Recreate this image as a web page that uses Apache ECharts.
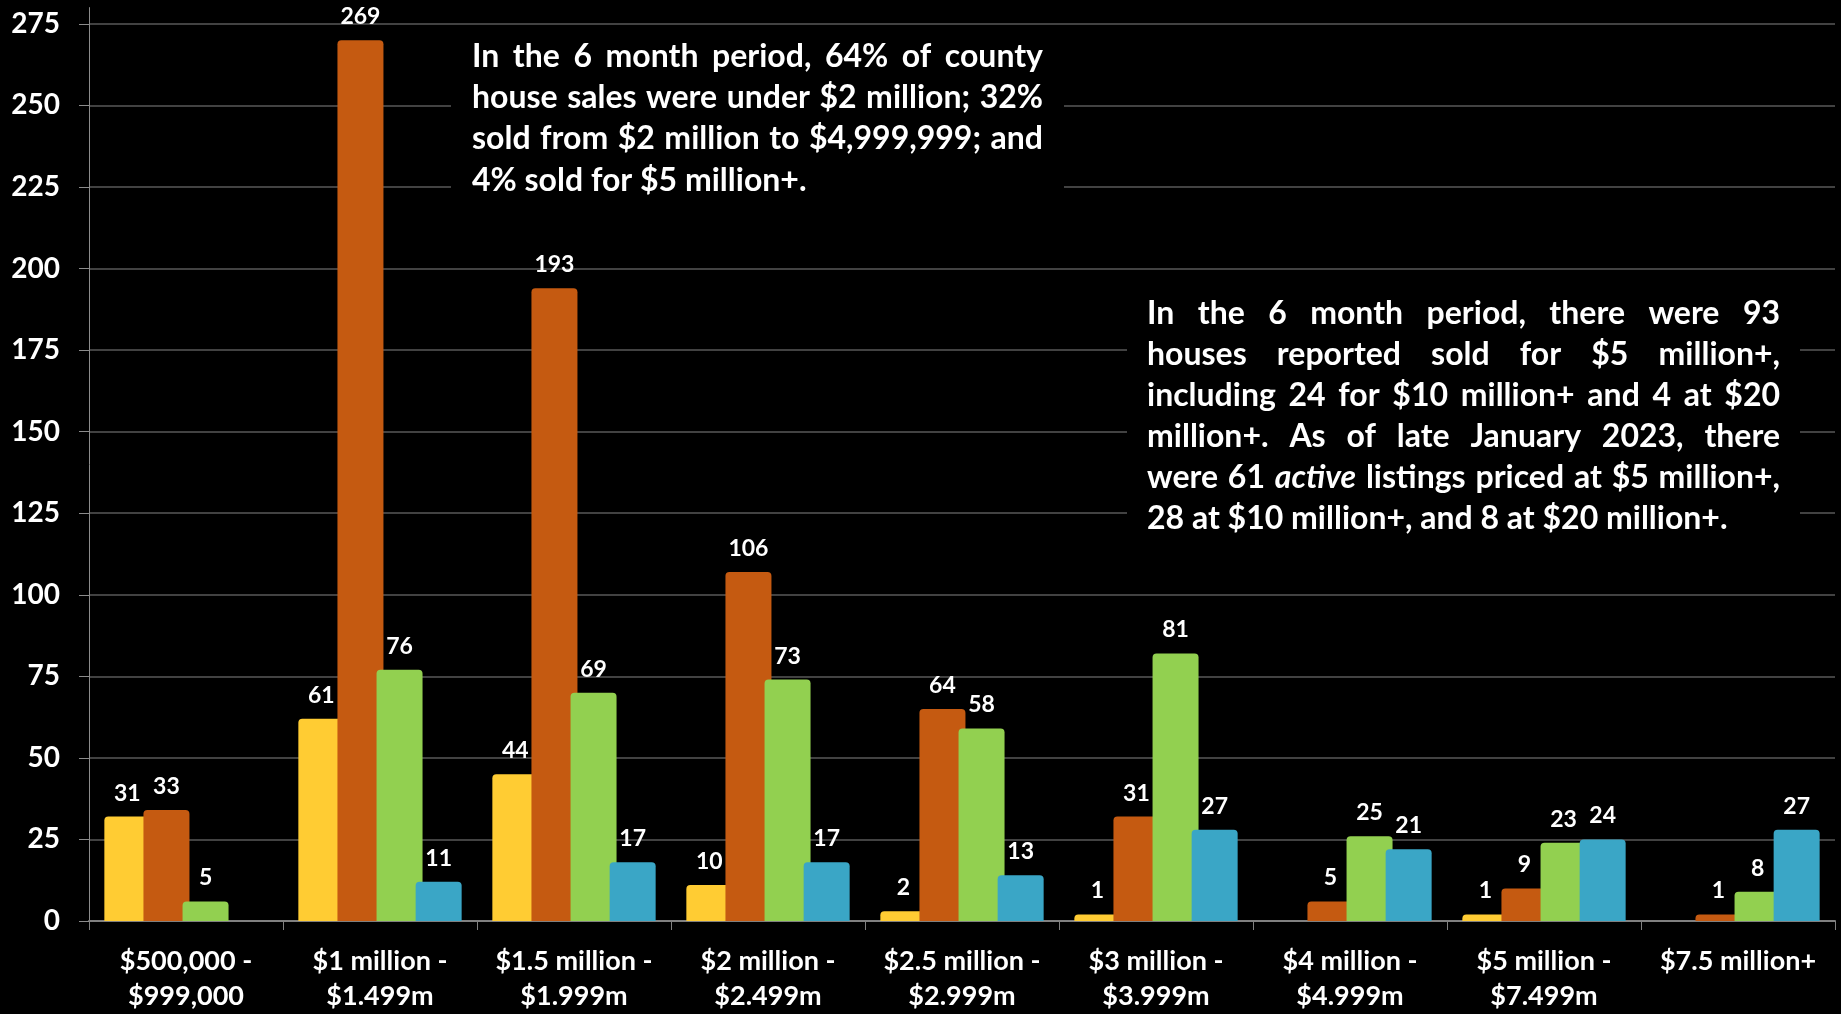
<!DOCTYPE html>
<html>
<head>
<meta charset="utf-8">
<script src="https://cdn.jsdelivr.net/npm/echarts@6/dist/echarts.min.js"></script>
<style>
  html, body { margin: 0; padding: 0; background: #000; }
  #chart { width: 1841px; height: 1014px; }
</style>
</head>
<body>
<div id="chart"></div>
<script>
// ---- data ----
const categories = [
  '$500,000 -\n$999,000',
  '$1 million -\n$1.499m',
  '$1.5 million -\n$1.999m',
  '$2 million -\n$2.499m',
  '$2.5 million -\n$2.999m',
  '$3 million -\n$3.999m',
  '$4 million -\n$4.999m',
  '$5 million -\n$7.499m',
  '$7.5 million+'
];
// printed labels
const yellowCounts = [31, 61, 44, 10, 2, 1, null, 1, null];
const orangeCounts = [33, 269, 193, 106, 64, 31, 5, 9, 1];
const greenCounts  = [5, 76, 69, 73, 58, 81, 25, 23, 8];
const blueCounts   = [null, 11, 17, 17, 13, 27, 21, 24, 27];
// bar heights as drawn in the picture
const yellowHeights = [32, 62, 45, 11, 3, 2, null, 2, null];
const orangeHeights = [34, 270, 194, 107, 65, 32, 6, 10, 2];
const greenHeights  = [6, 77, 70, 74, 59, 82, 26, 24, 9];
const blueHeights   = [null, 12, 18, 18, 14, 28, 22, 25, 28];
const yTicks = [0, 25, 50, 75, 100, 125, 150, 175, 200, 225, 250, 275];

const note1 = [
  'In the 6 month period, 64% of county',
  'house sales were under $2 million; 32%',
  'sold from $2 million to $4,999,999; and',
  '4% sold for $5 million+.'
];
const note2 = [
  'In the 6 month period, there were 93',
  'houses reported sold for $5 million+,',
  'including 24 for $10 million+ and 4 at $20',
  'million+. As of late January 2023, there',
  'were 61 *active* listings priced at $5 million+,',
  '28 at $10 million+, and 8 at $20 million+.'
];

const FONT = 'Lato';
const colors = ['#FFCC33', '#C55A11', '#92D050', '#3AA6C6'];

const canvas = document.createElement('canvas');
const ctx = canvas.getContext('2d');
function measure(t, italic, size) {
  ctx.font = (italic ? 'italic ' : '') + 'bold ' + size + 'px ' + FONT;
  return ctx.measureText(t).width;
}
function parseWords(line) {
  return line.split(' ').map(w => {
    const it = w.startsWith('*') && w.endsWith('*');
    return { t: it ? w.slice(1, -1) : w, italic: it };
  });
}
function naturalWidth(line, size) {
  const words = parseWords(line);
  let s = 0;
  words.forEach(w => { s += measure(w.t, w.italic, size); });
  return s + (words.length - 1) * measure(' ', false, size);
}

function paragraph(lines, left, right, firstBaseline, step, size) {
  const els = [];
  const W = right - left;
  lines.forEach((line, li) => {
    const words = parseWords(line);
    const widths = words.map(w => measure(w.t, w.italic, size));
    const sum = widths.reduce((a, b) => a + b, 0);
    const last = li === lines.length - 1;
    const gap = (!last && words.length > 1) ? (W - sum) / (words.length - 1) : measure(' ', false, size);
    let x = left;
    const y = firstBaseline + li * step - size * 0.36;
    words.forEach((w, i) => {
      els.push({
        type: 'text', x: x, y: y, z: 101,
        style: {
          text: w.t, fill: '#fff',
          font: (w.italic ? 'italic ' : '') + 'bold ' + size + 'px ' + FONT,
          textAlign: 'left', verticalAlign: 'middle'
        }
      });
      x += widths[i] + gap;
    });
  });
  return els;
}

// font sizes chosen so the naturally-full lines fill the box width
const size1 = Math.min(32, 28 * 571 / naturalWidth(note1[1], 28));
const size2 = Math.min(32, 28 * 633 / naturalWidth(note2[4], 28));
const noteSize = Math.round(((size1 + size2) / 2) * 10) / 10;

function mkSeries(name, heights, counts, color) {
  return {
    name: name, type: 'bar',
    data: heights,
    barWidth: 46, barGap: '-15%',
    itemStyle: { color: color, borderRadius: [4, 4, 0, 0] },
    label: {
      show: true, position: 'top', distance: 12,
      color: '#fff', fontFamily: FONT, fontWeight: 'bold', fontSize: 23,
      formatter: p => (counts[p.dataIndex] == null ? '' : String(counts[p.dataIndex]))
    }
  };
}

const chart = echarts.init(document.getElementById('chart'));
const option = {
  backgroundColor: '#000',
  animation: false,
  grid: { left: 89, right: 6, top: 7.6, bottom: 90 },
  xAxis: {
    type: 'category', data: categories, boundaryGap: true,
    axisLine: { lineStyle: { color: '#808080', width: 2 } },
    axisTick: { show: true, length: 9, lineStyle: { color: '#808080' } },
    axisLabel: {
      interval: 0, color: '#fff', fontFamily: FONT, fontWeight: 'bold',
      fontSize: 27, lineHeight: 35, margin: 23
    }
  },
  yAxis: {
    type: 'value', min: 0, max: 280, interval: 25,
    axisLine: { show: true, lineStyle: { color: '#8c8c8c' } },
    axisTick: { show: true, length: 10, lineStyle: { color: '#8c8c8c' }, customValues: yTicks },
    axisLabel: {
      color: '#fff', fontFamily: FONT, fontWeight: 'bold', fontSize: 28, margin: 29,
      customValues: yTicks
    },
    splitLine: { show: true, lineStyle: { color: '#595959', width: 1.5 } }
  },
  series: [
    mkSeries('Series 1', yellowHeights, yellowCounts, colors[0]),
    mkSeries('Series 2', orangeHeights, orangeCounts, colors[1]),
    mkSeries('Series 3', greenHeights, greenCounts, colors[2]),
    mkSeries('Series 4', blueHeights, blueCounts, colors[3])
  ],
  graphic: [
    { type: 'rect', z: 100, shape: { x: 451, y: 30, width: 613, height: 182 }, style: { fill: '#000' } },
    { type: 'rect', z: 100, shape: { x: 1127, y: 282, width: 673, height: 286 }, style: { fill: '#000' } }
  ].concat(paragraph(note1, 472, 1043, 68, 41.3, noteSize))
   .concat(paragraph(note2, 1147, 1780, 325, 41, noteSize))
};
chart.setOption(option);
</script>
</body>
</html>
